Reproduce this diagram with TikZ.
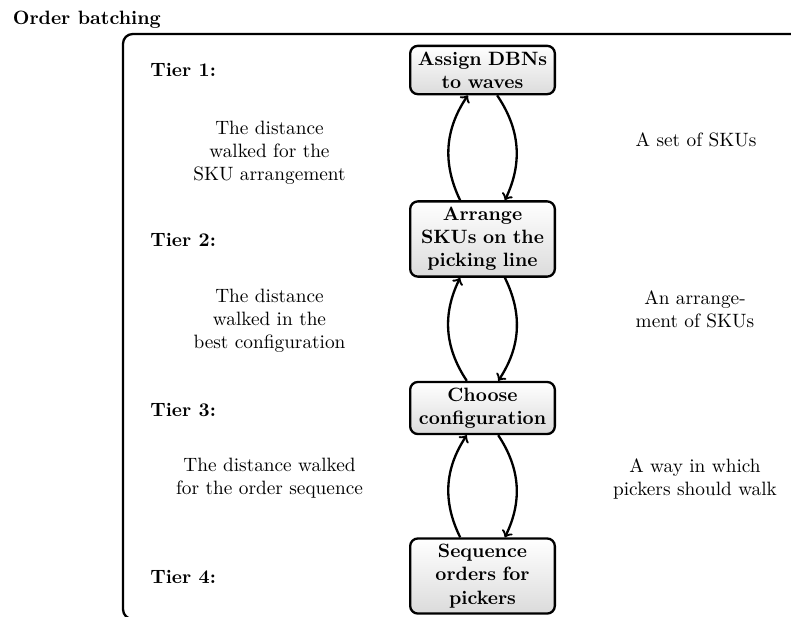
\documentclass[tikz,border=0pt]{standalone}
\begin{document}
\begin{tikzpicture}[x=0.5181pt, y=-0.5181pt,
  stepbox/.style={draw, very thick, rounded corners=4pt, top color=white,
    bottom color=black!14, text width=2.4cm, align=center, font=\bfseries,
    inner ysep=3pt},
  note/.style={align=center},
  tier/.style={anchor=base west, font=\bfseries},
  flow/.style={->, very thick}]
  % page area
  \clip (0,0) rectangle (791,616);

  % title and surrounding frame
  \node[anchor=base west, font=\bfseries, inner sep=0pt] (title) at (12.5,24) {Order batching};
  \draw[very thick, rounded corners=5pt] (123,34) rectangle (805,619);

  % tier labels
  \node[tier, inner sep=0pt] (t1) at (150,76)  {Tier 1:};
  \node[tier, inner sep=0pt] (t2) at (150,246) {Tier 2:};
  \node[tier, inner sep=0pt] (t3) at (150,416) {Tier 3:};
  \node[tier, inner sep=0pt] (t4) at (150,583) {Tier 4:};

  % decision steps
  \node[stepbox] (n1) at (482.5,70)  {Assign DBNs to waves};
  \node[stepbox] (n2) at (482.5,239) {Arrange SKUs on the picking line};
  \node[stepbox] (n3) at (482.5,408) {Choose configuration};
  \node[stepbox] (n4) at (482.5,576) {Sequence orders for pickers};

  % feedback passed upwards
  \node[note] (f1) at (269.5,153) {The distance\\walked for the\\SKU arrangement};
  \node[note] (f2) at (269.5,321) {The distance\\walked in the\\best configuration};
  \node[note] (f3) at (269.5,478) {The distance walked\\for the order sequence};

  % decisions passed downwards
  \node[anchor=base, inner sep=0pt] (d1) at (696,146) {A set of SKUs};
  \node[note] (d2) at (695,309) {An arrange-\\ment of SKUs};
  \node[note] (d3) at (695,479) {A way in which\\pickers should walk};

  % connectors between the tiers
  \draw[flow] (n1) to[bend left=30] (n2);
  \draw[flow] (n2) to[bend left=30] (n1);
  \draw[flow] (n2) to[bend left=30] (n3);
  \draw[flow] (n3) to[bend left=30] (n2);
  \draw[flow] (n3) to[bend left=30] (n4);
  \draw[flow] (n4) to[bend left=30] (n3);
\end{tikzpicture}
\end{document}
